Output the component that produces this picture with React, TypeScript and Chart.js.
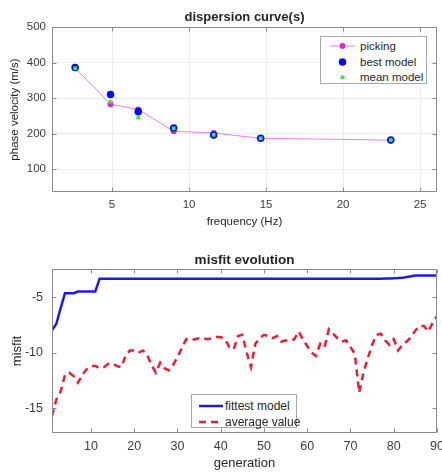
import React, { useEffect, useRef } from "react";
import { Chart, registerables } from "chart.js";

Chart.register(...registerables);

const FONT = "'Liberation Sans', Arial, Helvetica, sans-serif";
const TEXT = "#262626";
const TICK_TEXT = "#3c3c3c";

// ---- dispersion curve(s) ----
const frequencyHz = [2.6, 4.9, 6.7, 9.0, 11.6, 14.65, 23.1];
const pickingVelocity = [385, 283, 268, 207, 202, 187, 182];
const bestModelVelocity = [386, 310, 262, 216, 196, 187, 182];
const meanModelVelocity = [384, 290, 245, 215, 197, 187, 182];
const frequencyTicks = [5, 10, 15, 20, 25];
const velocityTicks = [100, 200, 300, 400, 500];

// ---- misfit evolution ----
const generation = [
  1, 2, 3, 4, 5, 6, 7, 8, 9, 10, 11, 12, 13, 14, 15, 16, 17, 18, 19, 20,
  21, 22, 23, 24, 25, 26, 27, 28, 29, 30, 31, 32, 33, 34, 35, 36, 37, 38, 39, 40,
  41, 42, 43, 44, 45, 46, 47, 48, 49, 50, 51, 52, 53, 54, 55, 56, 57, 58, 59, 60,
  61, 62, 63, 64, 65, 66, 67, 68, 69, 70, 71, 72, 73, 74, 75, 76, 77, 78, 79, 80,
  81, 82, 83, 84, 85, 86, 87, 88, 89, 90,
];
const fittestModel = [
  -8.0, -7.4, -6.0, -4.65, -4.65, -4.65, -4.5, -4.5, -4.5, -4.5,
  -4.5, -3.36, -3.36, -3.36, -3.36, -3.36, -3.36, -3.36, -3.36, -3.36,
  -3.36, -3.36, -3.36, -3.36, -3.36, -3.36, -3.36, -3.36, -3.36, -3.36,
  -3.36, -3.36, -3.36, -3.36, -3.36, -3.36, -3.36, -3.36, -3.36, -3.36,
  -3.36, -3.36, -3.36, -3.36, -3.36, -3.36, -3.36, -3.36, -3.36, -3.36,
  -3.36, -3.36, -3.36, -3.36, -3.36, -3.36, -3.36, -3.36, -3.36, -3.36,
  -3.36, -3.36, -3.36, -3.36, -3.36, -3.36, -3.36, -3.36, -3.36, -3.36,
  -3.36, -3.36, -3.36, -3.36, -3.36, -3.35, -3.34, -3.33, -3.32, -3.3,
  -3.29, -3.27, -3.2, -3.12, -3.06, -3.05, -3.05, -3.05, -3.05, -3.05,
];
const averageValue = [
  -15.7, -14.2, -13.5, -12.0, -11.8, -12.1, -12.7, -12.0, -11.5, -11.2,
  -11.2, -11.4, -11.3, -11.0, -11.0, -11.2, -11.3, -10.3, -9.8, -9.8,
  -10.0, -9.8, -10.2, -11.1, -11.8, -10.9, -11.4, -11.6, -11.1, -10.4,
  -9.6, -8.8, -8.9, -8.8, -8.7, -8.7, -8.8, -8.7, -8.6, -8.6,
  -8.8, -9.5, -9.7, -8.5, -8.4, -10.0, -11.3, -9.2, -8.7, -8.4,
  -8.5, -8.7, -8.5, -9.0, -8.9, -8.9, -8.8, -8.1, -8.8, -9.4,
  -10.0, -10.3, -9.2, -9.5, -7.9, -8.3, -8.7, -9.0, -8.9, -9.5,
  -10.1, -13.6, -11.8, -10.5, -9.3, -8.4, -8.3, -8.9, -9.3, -8.8,
  -9.8, -9.3, -9.0, -8.6, -8.0, -7.6, -7.6, -8.1, -7.3, -6.7,
];
const generationTicks = [10, 20, 30, 40, 50, 60, 70, 80, 90];
const misfitTicks = [-15, -10, -5];

const boxPlugin = {
  id: "matlabBox",
  afterDatasetsDraw(chart: any) {
    const { ctx, chartArea: a, scales } = chart;
    const xs = scales.x;
    const ys = scales.y;
    const L = Math.round(a.left) + 0.5;
    const R = Math.round(a.right) - 0.5;
    const T = Math.round(a.top) + 0.5;
    const B = Math.round(a.bottom) - 0.5;
    ctx.save();
    ctx.strokeStyle = "#8a8a8a";
    ctx.lineWidth = 1;
    ctx.beginPath();
    ctx.rect(L, T, R - L, B - T);
    const len = 4;
    xs.ticks.forEach((t: any) => {
      const p = Math.round(xs.getPixelForValue(t.value)) + 0.5;
      ctx.moveTo(p, B);
      ctx.lineTo(p, B - len);
      ctx.moveTo(p, T);
      ctx.lineTo(p, T + len);
    });
    ys.ticks.forEach((t: any) => {
      const p = Math.round(ys.getPixelForValue(t.value)) + 0.5;
      ctx.moveTo(L, p);
      ctx.lineTo(L + len, p);
      ctx.moveTo(R, p);
      ctx.lineTo(R - len, p);
    });
    ctx.stroke();
    ctx.restore();
  },
};

function xAxis(min: number, max: number, ticks: number[], title: string, h: number, tickSize: number, titleSize: number, titlePadBottom: number, grid: boolean) {
  return {
    type: "linear",
    min,
    max,
    afterBuildTicks: (s: any) => {
      s.ticks = ticks.map((v) => ({ value: v }));
    },
    afterFit: (s: any) => {
      s.height = h;
      s.paddingLeft = 0;
      s.paddingRight = 0;
    },
    grid: { display: grid, color: "#ebebeb", drawTicks: false },
    border: { display: false },
    ticks: {
      color: TICK_TEXT,
      font: { family: FONT, size: tickSize },
      padding: 6,
      maxRotation: 0,
      autoSkip: false,
    },
    title: {
      display: true,
      text: title,
      color: TEXT,
      font: { family: FONT, size: titleSize },
      padding: { top: 0, bottom: titlePadBottom },
    },
  };
}

function yAxis(min: number, max: number, ticks: number[], title: string, tickSize: number, titleSize: number, titlePadTop: number, tickPad: number, grid: boolean) {
  return {
    type: "linear",
    min,
    max,
    afterBuildTicks: (s: any) => {
      s.ticks = ticks.map((v) => ({ value: v }));
    },
    afterFit: (s: any) => {
      s.width = 52;
      s.paddingTop = 0;
      s.paddingBottom = 0;
    },
    grid: { display: grid, color: "#ebebeb", drawTicks: false },
    border: { display: false },
    ticks: {
      color: TICK_TEXT,
      font: { family: FONT, size: tickSize },
      padding: tickPad,
      autoSkip: false,
    },
    title: {
      display: true,
      text: title,
      color: TEXT,
      font: { family: FONT, size: titleSize },
      padding: { top: titlePadTop, bottom: 0 },
    },
  };
}

function DispersionChart() {
  const ref = useRef<HTMLCanvasElement | null>(null);
  useEffect(() => {
    if (!ref.current) return;
    const pts = (ys: number[]) => frequencyHz.map((f, i) => ({ x: f, y: ys[i] }));
    const chart = new Chart(ref.current, {
      type: "line",
      data: {
        datasets: [
          {
            label: "mean model",
            data: pts(meanModelVelocity),
            showLine: false,
            pointStyle: "rect",
            pointRadius: 2.6,
            pointBackgroundColor: "#3bed3b",
            pointBorderColor: "#3bed3b",
            pointBorderWidth: 0,
          },
          {
            label: "best model",
            data: pts(bestModelVelocity),
            showLine: false,
            pointStyle: "circle",
            pointRadius: 3.8,
            pointBackgroundColor: "#0b0bf5",
            pointBorderColor: "#0b0bf5",
            pointBorderWidth: 0,
          },
          {
            label: "picking",
            data: pts(pickingVelocity),
            showLine: true,
            borderColor: "#f07af0",
            borderWidth: 1,
            tension: 0,
            pointStyle: "circle",
            pointRadius: 3,
            pointBackgroundColor: "#c832c8",
            pointBorderColor: "#c832c8",
            pointBorderWidth: 0,
          },
        ],
      } as any,
      options: {
        animation: false,
        responsive: false,
        events: [],
        layout: { padding: { left: 0, right: 5, top: 0, bottom: 0 } },
        plugins: {
          legend: { display: false },
          tooltip: { enabled: false },
          title: {
            display: true,
            fullSize: false,
            text: "dispersion curve(s)",
            color: TEXT,
            font: { family: FONT, size: 13, weight: "bold" },
            padding: { top: 10, bottom: 1.4 },
          },
        },
        scales: {
          x: xAxis(1.1, 26.1, frequencyTicks, "frequency (Hz)", 44, 11.5, 11.5, 7.2, true),
          y: yAxis(36, 500, velocityTicks, "phase velocity (m/s)", 11.5, 11.5, 8.4, 6, true),
        },
      } as any,
      plugins: [boxPlugin],
    });
    return () => chart.destroy();
  }, []);
  return <canvas ref={ref} width={442} height={236} style={{ display: "block" }} />;
}

function MisfitChart() {
  const ref = useRef<HTMLCanvasElement | null>(null);
  useEffect(() => {
    if (!ref.current) return;
    const pts = (ys: number[]) => generation.map((g, i) => ({ x: g, y: ys[i] }));
    const chart = new Chart(ref.current, {
      type: "line",
      data: {
        datasets: [
          {
            label: "fittest model",
            data: pts(fittestModel),
            borderColor: "#1a1af5",
            borderWidth: 2.5,
            pointRadius: 0,
            tension: 0,
          },
          {
            label: "average value",
            data: pts(averageValue),
            borderColor: "#ec1c32",
            borderWidth: 2.5,
            borderDash: [7, 5],
            pointRadius: 0,
            tension: 0,
          },
        ],
      } as any,
      options: {
        animation: false,
        responsive: false,
        events: [],
        layout: { padding: { left: 0, right: 5, top: 0, bottom: 0 } },
        plugins: {
          legend: { display: false },
          tooltip: { enabled: false },
          title: {
            display: true,
            fullSize: false,
            text: "misfit evolution",
            color: TEXT,
            font: { family: FONT, size: 13.5, weight: "bold" },
            padding: { top: 16.2, bottom: 0.9 },
          },
        },
        scales: {
          x: xAxis(1, 90, generationTicks, "generation", 39.3, 12.5, 13, 0.6, false),
          y: yAxis(-17.2, -2.5, misfitTicks, "misfit", 12.5, 13, 9.6, 9, false),
        },
      } as any,
      plugins: [boxPlugin],
    });
    return () => chart.destroy();
  }, []);
  return <canvas ref={ref} width={442} height={236} style={{ display: "block" }} />;
}

const legendText: React.CSSProperties = {
  position: "absolute",
  fontFamily: FONT,
  color: TEXT,
  whiteSpace: "nowrap",
  lineHeight: "1",
};

export default function App() {
  return (
    <div
      style={{
        position: "absolute",
        left: 0,
        top: 0,
        width: 442,
        height: 472,
        background: "#ffffff",
        overflow: "hidden",
      }}
    >
      <DispersionChart />
      <MisfitChart />

      {/* dispersion legend */}
      <div
        style={{
          position: "absolute",
          left: 320,
          top: 36,
          width: 107,
          height: 48,
          border: "1px solid #a8a8a8",
          background: "#fff",
          boxSizing: "border-box",
        }}
      >
        <svg width={40} height={48} style={{ position: "absolute", left: 0, top: 0 }}>
          <line x1={9} y1={9} x2={34} y2={9} stroke="#f07af0" strokeWidth={1} />
          <circle cx={21.5} cy={9} r={3} fill="#c832c8" />
          <circle cx={21.5} cy={25} r={3.8} fill="#0b0bf5" />
          <rect x={19.6} y={38.4} width={3.8} height={3.8} fill="#3bed3b" />
        </svg>
        <span style={{ ...legendText, left: 39, top: 3.5, fontSize: 11.5 }}>picking</span>
        <span style={{ ...legendText, left: 39, top: 19.5, fontSize: 11.5 }}>best model</span>
        <span style={{ ...legendText, left: 39, top: 34.5, fontSize: 11.5 }}>mean model</span>
      </div>

      {/* misfit legend */}
      <div
        style={{
          position: "absolute",
          left: 191,
          top: 394,
          width: 106,
          height: 34,
          border: "1px solid #a8a8a8",
          background: "#fff",
          boxSizing: "border-box",
        }}
      >
        <svg width={34} height={34} style={{ position: "absolute", left: 0, top: 0 }}>
          <line x1={7} y1={11} x2={31} y2={11} stroke="#1a1af5" strokeWidth={2.5} />
          <line x1={7} y1={27} x2={31} y2={27} stroke="#ec1c32" strokeWidth={2.5} strokeDasharray="7 5" />
        </svg>
        <span style={{ ...legendText, left: 33, top: 4.5, fontSize: 12 }}>fittest model</span>
        <span style={{ ...legendText, left: 33, top: 20.5, fontSize: 12 }}>average value</span>
      </div>
    </div>
  );
}
